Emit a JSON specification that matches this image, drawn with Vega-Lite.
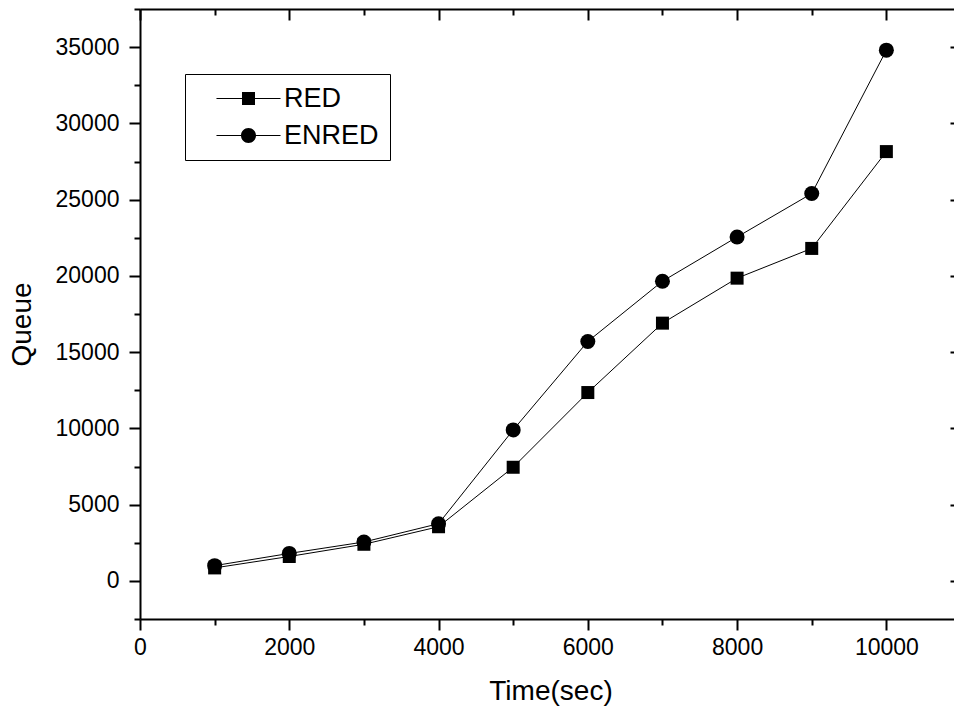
{
  "$schema": "https://vega.github.io/schema/vega-lite/v6.json",
  "autosize": {"type": "none"},
  "padding": {"left": 140, "top": 9, "right": 0, "bottom": 92},
  "width": 821,
  "height": 610,
  "background": "white",
  "config": {
    "view": {"stroke": null},
    "font": "Liberation Sans",
    "axis": {
      "grid": false,
      "domainColor": "black",
      "domainWidth": 2,
      "tickColor": "black",
      "tickWidth": 2,
      "labelColor": "black",
      "titleColor": "black",
      "labelFont": "Liberation Sans",
      "titleFont": "Liberation Sans",
      "labelFontSize": 23,
      "titleFontSize": 28,
      "titleFontWeight": "normal",
      "labelFlush": false,
      "labelOverlap": false
    }
  },
  "data": {
    "values": [
      {"time": 1000, "queue": 850, "series": "RED"},
      {"time": 2000, "queue": 1600, "series": "RED"},
      {"time": 3000, "queue": 2400, "series": "RED"},
      {"time": 4000, "queue": 3550, "series": "RED"},
      {"time": 5000, "queue": 7450, "series": "RED"},
      {"time": 6000, "queue": 12350, "series": "RED"},
      {"time": 7000, "queue": 16900, "series": "RED"},
      {"time": 8000, "queue": 19850, "series": "RED"},
      {"time": 9000, "queue": 21800, "series": "RED"},
      {"time": 10000, "queue": 28150, "series": "RED"},
      {"time": 1000, "queue": 1000, "series": "ENRED"},
      {"time": 2000, "queue": 1800, "series": "ENRED"},
      {"time": 3000, "queue": 2550, "series": "ENRED"},
      {"time": 4000, "queue": 3750, "series": "ENRED"},
      {"time": 5000, "queue": 9900, "series": "ENRED"},
      {"time": 6000, "queue": 15700, "series": "ENRED"},
      {"time": 7000, "queue": 19650, "series": "ENRED"},
      {"time": 8000, "queue": 22550, "series": "ENRED"},
      {"time": 9000, "queue": 25400, "series": "ENRED"},
      {"time": 10000, "queue": 34800, "series": "ENRED"}
    ]
  },
  "layer": [
    {
      "mark": {"type": "line", "color": "black", "strokeWidth": 1},
      "encoding": {
        "x": {
          "field": "time", "type": "quantitative",
          "scale": {"domain": [0, 11000], "nice": false, "zero": false},
          "axis": {
            "orient": "bottom", "title": "Time(sec)", "format": "d",
            "values": [0, 1000, 2000, 3000, 4000, 5000, 6000, 7000, 8000, 9000, 10000, 11000],
            "tickSize": {"condition": {"test": "datum.value % 2000 === 0", "value": 11}, "value": 6},
            "labelExpr": "datum.value % 2000 === 0 ? datum.label : ''",
            "labelPadding": 6,
            "titlePadding": 18
          }
        },
        "y": {
          "field": "queue", "type": "quantitative",
          "scale": {"domain": [-2500, 37500], "nice": false, "zero": false},
          "axis": {
            "orient": "left", "title": "Queue", "format": "d",
            "values": [-2500, 0, 2500, 5000, 7500, 10000, 12500, 15000, 17500, 20000, 22500, 25000, 27500, 30000, 32500, 35000, 37500],
            "tickSize": {"condition": {"test": "datum.value % 5000 === 0", "value": 11}, "value": 6},
            "labelExpr": "datum.value % 5000 === 0 ? datum.label : ''",
            "labelPadding": 10,
            "titlePadding": 19,
            "titleY": 315
          }
        },
        "detail": {"field": "series"}
      }
    },
    {
      "mark": {"type": "point", "filled": true, "opacity": 1, "color": "black", "strokeWidth": 0},
      "encoding": {
        "x": {
          "field": "time", "type": "quantitative",
          "axis": {
            "orient": "top", "title": null, "labels": false,
            "values": [0, 1000, 2000, 3000, 4000, 5000, 6000, 7000, 8000, 9000, 10000, 11000],
            "tickSize": {"condition": {"test": "datum.value % 2000 === 0", "value": -11}, "value": -6}
          }
        },
        "y": {
          "field": "queue", "type": "quantitative",
          "axis": {
            "orient": "right", "title": null, "labels": false,
            "values": [-2500, 0, 2500, 5000, 7500, 10000, 12500, 15000, 17500, 20000, 22500, 25000, 27500, 30000, 32500, 35000, 37500],
            "tickSize": {"condition": {"test": "datum.value % 5000 === 0", "value": -11}, "value": -6}
          }
        },
        "shape": {
          "condition": {"test": "datum.series === 'RED'", "value": "square"},
          "value": "circle"
        },
        "size": {
          "condition": {"test": "datum.series === 'RED'", "value": 169},
          "value": 225
        }
      }
    },
    {
      "transform": [{"filter": "false"}],
      "mark": {"type": "point", "filled": true, "opacity": 1, "color": "black"},
      "encoding": {
        "shape": {
          "field": "series", "type": "nominal",
          "scale": {
            "domain": ["RED", "ENRED"],
            "range": [
              "M-4.27,-0.07H4.27V0.07H-4.27ZM-0.867,-0.867H0.867V0.867H-0.867Z",
              "M-4.27,-0.07H4.27V0.07H-4.27ZM-1,0A1,1,0,1,1,1,0A1,1,0,1,1,-1,0Z"
            ]
          },
          "legend": {
            "title": null,
            "orient": "none",
            "legendX": 45,
            "legendY": 65,
            "strokeColor": "black",
            "padding": 11,
            "symbolSize": 225,
            "symbolFillColor": "black",
            "symbolStrokeWidth": 0,
            "labelFont": "Liberation Sans",
            "labelFontSize": 27,
            "labelColor": "black",
            "labelOffset": 22,
            "rowPadding": 9,
            "symbolOffset": 39
          }
        }
      }
    }
  ],
  "resolve": {"axis": {"x": "independent", "y": "independent"}}
}
